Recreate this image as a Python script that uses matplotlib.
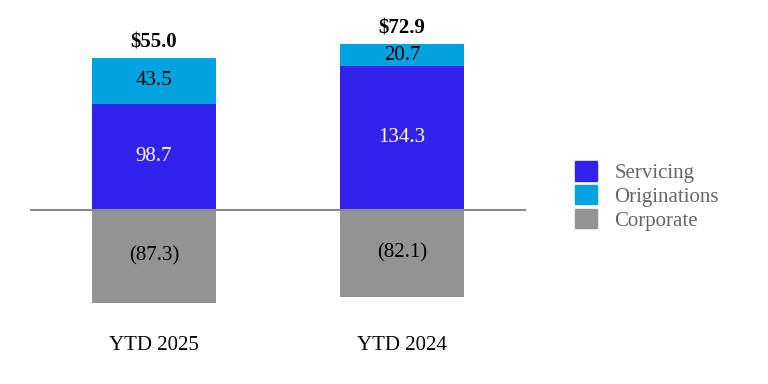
import matplotlib
matplotlib.use("Agg")
import matplotlib.pyplot as plt
from matplotlib.patches import Patch

categories = ["YTD 2025", "YTD 2024"]
servicing = [98.7, 134.3]
originations = [43.5, 20.7]
corporate = [-87.3, -82.1]
totals = ["$55.0", "$72.9"]
corp_labels = ["(87.3)", "(82.1)"]

c_serv = "#3122EE"
c_orig = "#00A3E0"
c_corp = "#939393"

plt.rcParams['font.family'] = ['Liberation Serif', 'DejaVu Serif']

fig = plt.figure(figsize=(7.68, 3.84), dpi=100)
ax = fig.add_axes([30/768, 0, 496/768, 1])
ax.set_xlim(-0.5, 1.5)
ax.set_ylim(-163.4, 196.2)
ax.axis('off')

x = list(range(len(categories)))
w = 0.5
ax.bar(x, servicing, width=w, color=c_serv, zorder=2)
ax.bar(x, originations, width=w, bottom=servicing, color=c_orig, zorder=2)
ax.bar(x, corporate, width=w, color=c_corp, zorder=2)
ax.axhline(0, color="#8a8a8a", lw=1.5, zorder=3)

fs = 15
for i in x:
    ax.text(i, servicing[i] / 2, f"{servicing[i]:.1f}", ha='center', va='center',
            color='white', fontsize=fs, zorder=4)
    ax.text(i, servicing[i] + originations[i] / 2, f"{originations[i]:.1f}",
            ha='center', va='center', color='black', fontsize=fs, zorder=4)
    ax.text(i, corporate[i] / 2, corp_labels[i], ha='center', va='center',
            color='black', fontsize=fs, zorder=4)
    top = servicing[i] + originations[i]
    ax.annotate(totals[i], (i, top), xytext=(0, 15), textcoords='offset pixels',
                ha='center', va='center', fontsize=fs, fontweight='bold')
    ax.text(i, -127.5, categories[i], ha='center', va='center', fontsize=fs)

handles = [Patch(color=c_serv), Patch(color=c_orig), Patch(color=c_corp)]
leg = fig.legend(handles, ["Servicing", "Originations", "Corporate"],
                 loc='center left', bbox_to_anchor=(558/768, 1 - 196/384),
                 frameon=False, fontsize=fs, handlelength=1.05, handleheight=1.05,
                 handletextpad=0.85, labelspacing=0.1, borderpad=0.3)
for t in leg.get_texts():
    t.set_color("#666666")

fig.savefig("out.png", dpi=100)
